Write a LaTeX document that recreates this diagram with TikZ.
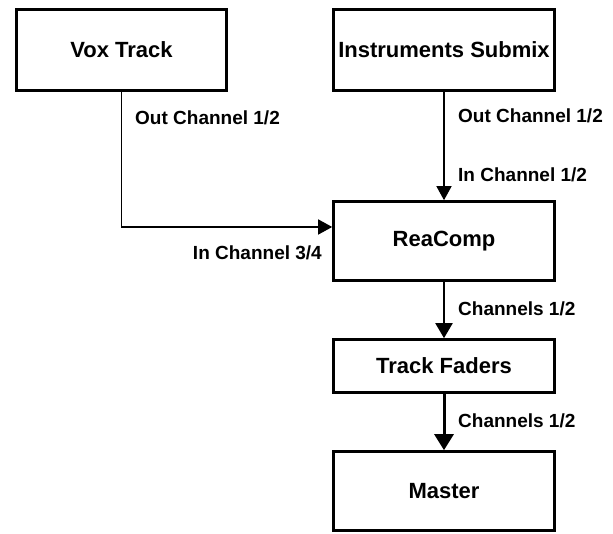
\documentclass[tikz,border=0pt]{standalone}
\usepackage{fontspec}
\setmainfont{Liberation Sans}
\usetikzlibrary{arrows.meta}

\tikzset{
	box/.style={draw,line width=2.6pt,inner sep=0pt,
		font=\fontsize{22}{26}\selectfont\bfseries},
	chan/.style={anchor=west,inner sep=0pt,
		font=\fontsize{19}{23}\selectfont\bfseries},
	thin/.style={line width=1.4pt,-{Triangle[length=14pt,width=15pt]}},
	mid/.style={line width=2pt,-{Triangle[length=15pt,width=17pt]}},
	thick/.style={line width=3pt,-{Triangle[length=16pt,width=19pt]}}
}

\begin{document}
\begin{tikzpicture}[line join=miter,x=1pt,y=1pt]
		\useasboundingbox (0,0) rectangle (613,534);
		% boxes
		\node[box,minimum width=210pt,minimum height=81pt] (vox) at (121.5,484) {Vox Track};
		\node[box,minimum width=221pt,minimum height=81pt] (inst) at (444,484) {Instruments Submix};
		\node[box,minimum width=221pt,minimum height=79pt] (rea) at (444,293) {ReaComp};
		\node[box,minimum width=221pt,minimum height=53pt] (fad) at (444,168) {Track Faders};
		\node[box,minimum width=221pt,minimum height=79pt] (mst) at (444,43) {Master};
		% connections
		\draw[thin] (vox.south) |- ([yshift=14pt]rea.west);
		\draw[thin] (inst.south) -- (rea.north);
		\draw[mid] (rea.south) -- (fad.north);
		\draw[thick] (fad.south) -- (mst.north);
		% channel labels
		\node[chan] (voxout) at (135,416) {Out Channel 1/2};
		\node[chan] (instout) at (458,418) {Out Channel 1/2};
		\node[chan] (reain) at (458,359) {In Channel 1/2};
		\node[chan,anchor=east] (reain2) at (322,281) {In Channel 3/4};
		\node[chan] (reaout) at (458,225) {Channels 1/2};
		\node[chan] (fadout) at (458,113) {Channels 1/2};
	\end{tikzpicture}
\end{document}
